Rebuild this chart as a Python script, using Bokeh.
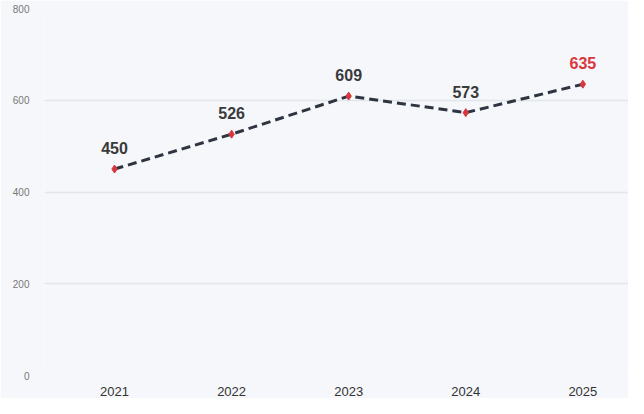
from bokeh.plotting import figure
from bokeh.embed import file_html
from bokeh.resources import INLINE
from bokeh.models import ColumnDataSource, FixedTicker
from bokeh.core.properties import value

years = ["2021", "2022", "2023", "2024", "2025"]
values = [450, 526, 609, 573, 635]
label_colors = ["#3a3a3a", "#3a3a3a", "#3a3a3a", "#3a3a3a", "#d9363e"]
y_ticks = [0, 200, 400, 600, 800]

xs = list(range(len(years)))
src = ColumnDataSource(dict(x=xs, y=values, lab=[str(v) for v in values], c=label_colors))

p = figure(width=628, height=398, output_backend="svg", toolbar_location=None,
           x_range=(-0.598, 4.39), y_range=(0, 800),
           min_border_left=44, min_border_right=0, min_border_top=8, min_border_bottom=20)
p.background_fill_color = "#f5f7fa"
p.border_fill_color = "#f5f7fa"
p.outline_line_color = None

p.line("x", "y", source=src, line_color="#2f3540", line_width=3, line_dash="9 5")
p.scatter("x", "y", source=src, marker="diamond", size=8, fill_color="#d9363e", line_color="#d9363e")
p.text("x", "y", text="lab", source=src, text_color="c", text_align="center",
       text_baseline="bottom", y_offset=-15, text_font=value("Liberation Sans"),
       text_font_size="16px", text_font_style="bold")

p.xaxis.ticker = FixedTicker(ticks=xs)
p.xaxis.major_label_overrides = {i: y for i, y in enumerate(years)}
p.yaxis.ticker = FixedTicker(ticks=y_ticks)
for ax in (p.xaxis[0], p.yaxis[0]):
    ax.axis_line_color = None
    ax.major_tick_line_color = None
    ax.minor_tick_line_color = None
    ax.major_label_text_font = "Liberation Sans"
p.xaxis.major_label_text_font_size = "13px"
p.xaxis.major_label_text_color = "#333333"
p.xaxis.major_label_standoff = 5
p.yaxis.major_label_text_font_size = "10px"
p.yaxis.major_label_text_color = "#777777"
p.yaxis.major_label_standoff = 9
p.xgrid.grid_line_color = None
p.ygrid.grid_line_color = "#e3e6ea"
p.ygrid.grid_line_width = 1.5

open("out.html", "w").write(file_html(p, INLINE))
